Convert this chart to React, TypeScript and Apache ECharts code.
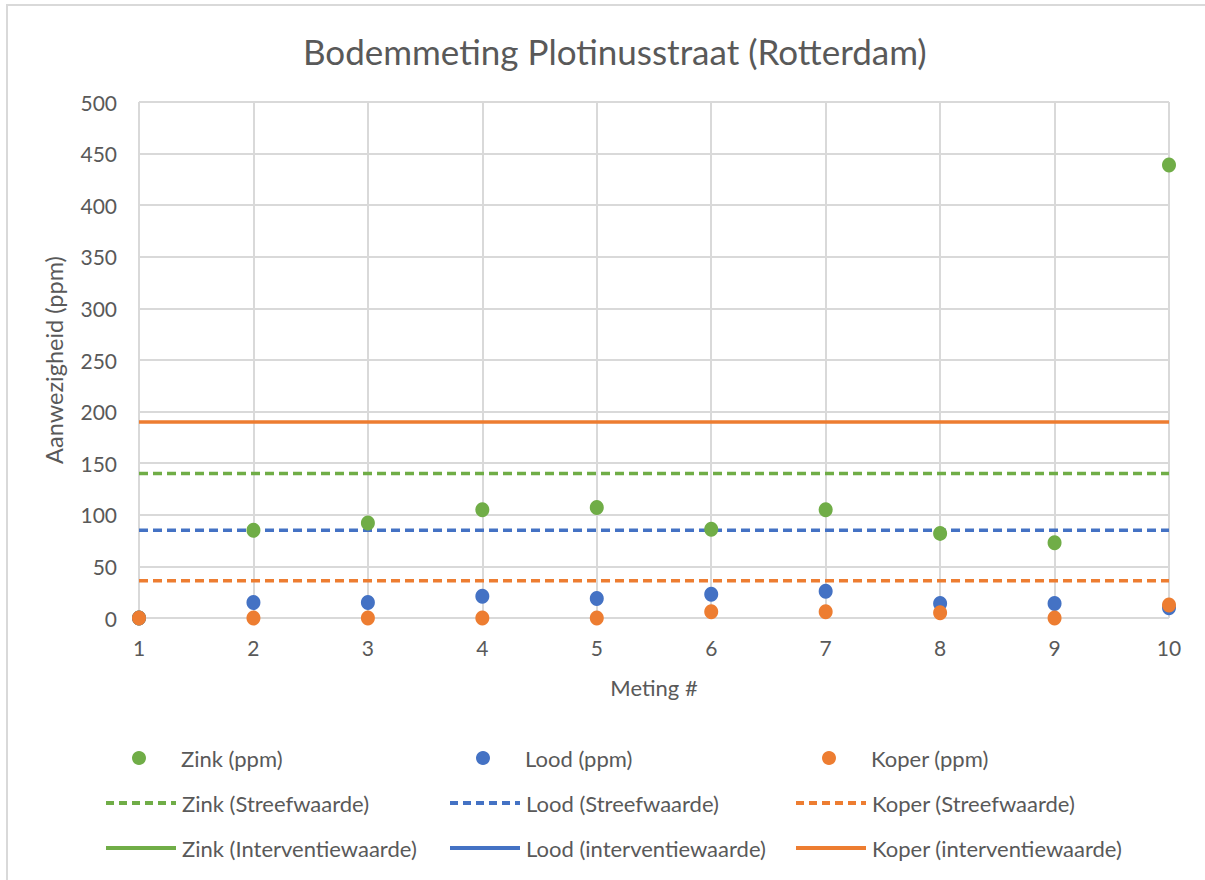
import React, { useEffect, useRef } from "react";
import * as echarts from "echarts";

const metingen = [1, 2, 3, 4, 5, 6, 7, 8, 9, 10];
const zink = [0, 85, 92, 105, 107, 86, 105, 82, 73, 439];
const lood = [0, 15, 15, 21, 19, 23, 26, 14, 14, 10];
const koper = [0, 0, 0, 0, 0, 6, 6, 5, 0, 12.5];

const zinkStreef = 140;
const loodStreef = 85;
const koperStreef = 36;
const zinkInterventie = 720;
const loodInterventie = 530;
const koperInterventie = 190;

const GREEN = "#70AD47";
const BLUE = "#4472C4";
const ORANGE = "#ED7D31";
const TEXT = "#595959";
const FONT = "Lato";

const names = {
  zink: "Zink (ppm)",
  lood: "Lood (ppm)",
  koper: "Koper (ppm)",
  zs: "Zink (Streefwaarde)",
  ls: "Lood (Streefwaarde)",
  ks: "Koper (Streefwaarde)",
  zi: "Zink (Interventiewaarde)",
  li: "Lood (interventiewaarde)",
  ki: "Koper (interventiewaarde)",
};

function pts(vals: number[]) {
  return metingen.map((m, i) => [m, vals[i]]);
}
function hline(v: number) {
  return [
    [metingen[0], v],
    [metingen[metingen.length - 1], v],
  ];
}

export default function App() {
  const ref = useRef<HTMLDivElement>(null);
  useEffect(() => {
    if (!ref.current) return;
    const chart = echarts.init(ref.current, null, { renderer: "svg" });
    const dash = [9, 5];
    const lineSeries = (name: string, v: number, color: string, dashed: boolean) => ({
      name,
      type: "line",
      data: hline(v),
      symbol: "none",
      showSymbol: false,
      clip: true,
      lineStyle: { color, width: 3.5, type: dashed ? dash : "solid" },
      itemStyle: { color },
      z: 2,
    });
    const scatter = (name: string, vals: number[], color: string, z: number) => ({
      name,
      type: "scatter",
      data: pts(vals),
      symbol: "circle",
      symbolSize: [14, 15],
      itemStyle: { color, opacity: 1 },
      z,
    });
    const legendCols = [104, 448, 794];
    const legendRows = [747, 792, 837];
    const textStyle = { color: TEXT, fontSize: 22, fontFamily: FONT };
    const legends: any[] = [];
    [names.zink, names.lood, names.koper].forEach((n, c) => {
      legends.push({
        data: [n],
        left: legendCols[c] + 28,
        top: legendRows[0],
        itemWidth: 14,
        itemHeight: 14,
        itemGap: 0,
        padding: 0,
        selectedMode: false,
        textStyle: { ...textStyle, padding: [0, 0, 0, 30] },
      });
    });
    [
      [names.zs, names.ls, names.ks],
      [names.zi, names.li, names.ki],
    ].forEach((row, r) =>
      row.forEach((n, c) => {
        legends.push({
          data: [
            {
              name: n,
              itemStyle: { opacity: 0 },
              lineStyle: { width: 4, type: r === 0 ? [8, 5] : "solid" },
            },
          ],
          left: legendCols[c],
          top: legendRows[r + 1],
          itemWidth: 70,
          itemHeight: 14,
          itemGap: 0,
          padding: 0,
          selectedMode: false,
          textStyle: { ...textStyle, padding: [0, 0, 0, 1] },
        });
      })
    );
    chart.setOption({
      animation: false,
      backgroundColor: "#FFFFFF",
      title: {
        text: "Bodemmeting Plotinusstraat (Rotterdam)",
        left: 298,
        top: 28,
        textStyle: { color: TEXT, fontSize: 35, fontWeight: "normal", fontFamily: FONT },
      },
      grid: { left: 139, right: 36, top: 102, bottom: 262, containLabel: false },
      legend: legends,
      xAxis: {
        type: "value",
        min: 1,
        max: 10,
        interval: 1,
        name: "Meting #",
        nameLocation: "middle",
        nameGap: 58,
        nameTextStyle: { color: TEXT, fontSize: 22, fontFamily: FONT },
        axisLine: { show: false },
        axisTick: { show: false },
        axisLabel: { color: TEXT, fontSize: 21, fontFamily: FONT, margin: 19 },
        splitLine: { show: true, lineStyle: { color: "#D9D9D9", width: 2 } },
      },
      yAxis: {
        type: "value",
        min: 0,
        max: 500,
        interval: 50,
        name: "Aanwezigheid (ppm)",
        nameLocation: "middle",
        nameGap: 73,
        nameRotate: 90,
        nameTextStyle: { color: TEXT, fontSize: 23.5, fontFamily: FONT },
        axisLine: { show: false },
        axisTick: { show: false },
        axisLabel: { color: TEXT, fontSize: 21, fontFamily: FONT, margin: 22 },
        splitLine: { show: true, lineStyle: { color: "#D9D9D9", width: 2 } },
      },
      graphic: [
        { type: "line", shape: { x1: 7, y1: 4, x2: 7, y2: 880 }, style: { stroke: "#D9D9D9", lineWidth: 2 } },
        { type: "line", shape: { x1: 6, y1: 5, x2: 1205, y2: 5 }, style: { stroke: "#D9D9D9", lineWidth: 2 } },
      ],
      series: [
        scatter(names.zink, zink, GREEN, 5),
        scatter(names.lood, lood, BLUE, 6),
        scatter(names.koper, koper, ORANGE, 7),
        lineSeries(names.zs, zinkStreef, GREEN, true),
        lineSeries(names.ls, loodStreef, BLUE, true),
        lineSeries(names.ks, koperStreef, ORANGE, true),
        lineSeries(names.zi, zinkInterventie, GREEN, false),
        lineSeries(names.li, loodInterventie, BLUE, false),
        lineSeries(names.ki, koperInterventie, ORANGE, false),
      ],
    });
    return () => chart.dispose();
  }, []);
  return (
    <div
      ref={ref}
      style={{ position: "fixed", left: 0, top: 0, width: 1205, height: 880, background: "#fff" }}
    />
  );
}
